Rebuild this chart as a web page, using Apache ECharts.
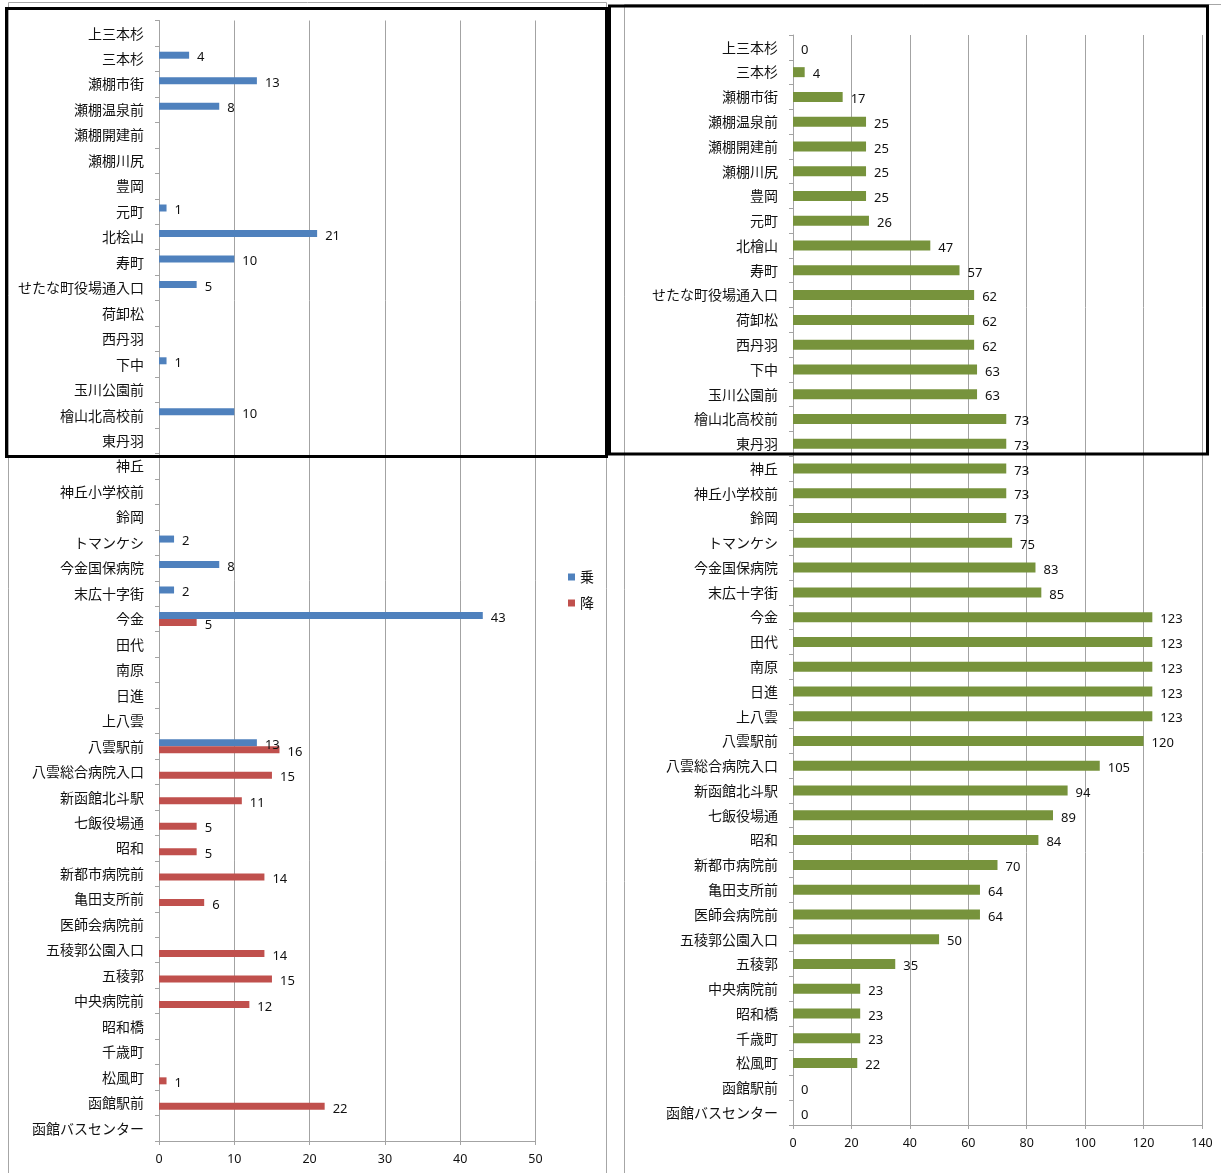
<!DOCTYPE html>
<html>
<head>
<meta charset="utf-8">
<title>乗降人数</title>
<script src="https://cdn.jsdelivr.net/npm/echarts@6/dist/echarts.min.js"></script>
<style>
  html, body { margin: 0; padding: 0; background: #fff; }
  #chart { width: 1221px; height: 1173px; }
</style>
</head>
<body>
<div id="chart"></div>
<script>
// Stops for the left panel (boarding / alighting)
const stopsLeft = [
  '上三本杉', '三本杉', '瀬棚市街', '瀬棚温泉前', '瀬棚開建前', '瀬棚川尻', '豊岡', '元町',
  '北桧山', '寿町', 'せたな町役場通入口', '荷卸松', '西丹羽', '下中', '玉川公園前', '檜山北高校前',
  '東丹羽', '神丘', '神丘小学校前', '鈴岡', 'トマンケシ', '今金国保病院', '末広十字街', '今金',
  '田代', '南原', '日進', '上八雲', '八雲駅前', '八雲総合病院入口', '新函館北斗駅', '七飯役場通',
  '昭和', '新都市病院前', '亀田支所前', '医師会病院前', '五稜郭公園入口', '五稜郭', '中央病院前', '昭和橋',
  '千歳町', '松風町', '函館駅前', '函館バスセンター'
];

// Stops for the right panel (passengers on board)
const stopsRight = [
  '上三本杉', '三本杉', '瀬棚市街', '瀬棚温泉前', '瀬棚開建前', '瀬棚川尻', '豊岡', '元町',
  '北檜山', '寿町', 'せたな町役場通入口', '荷卸松', '西丹羽', '下中', '玉川公園前', '檜山北高校前',
  '東丹羽', '神丘', '神丘小学校前', '鈴岡', 'トマンケシ', '今金国保病院', '末広十字街', '今金',
  '田代', '南原', '日進', '上八雲', '八雲駅前', '八雲総合病院入口', '新函館北斗駅', '七飯役場通',
  '昭和', '新都市病院前', '亀田支所前', '医師会病院前', '五稜郭公園入口', '五稜郭', '中央病院前', '昭和橋',
  '千歳町', '松風町', '函館駅前', '函館バスセンター'
];

// 乗 (boarding), '-' = no entry
const boarding = [
  '-', 4, 13, 8, '-', '-', '-', 1,
  21, 10, 5, '-', '-', 1, '-', 10,
  '-', '-', '-', '-', 2, 8, 2, 43,
  '-', '-', '-', '-', 13, '-', '-', '-',
  '-', '-', '-', '-', '-', '-', '-', '-',
  '-', '-', '-', '-'
];

// 降 (alighting), '-' = no entry
const alighting = [
  '-', '-', '-', '-', '-', '-', '-', '-',
  '-', '-', '-', '-', '-', '-', '-', '-',
  '-', '-', '-', '-', '-', '-', '-', 5,
  '-', '-', '-', '-', 16, 15, 11, 5,
  5, 14, 6, '-', 14, 15, 12, '-',
  '-', 1, 22, '-'
];

// Passengers on board after each stop
const onBoard = [
  0, 4, 17, 25, 25, 25, 25, 26,
  47, 57, 62, 62, 62, 63, 63, 73,
  73, 73, 73, 73, 75, 83, 85, 123,
  123, 123, 123, 123, 120, 105, 94, 89,
  84, 70, 64, 64, 50, 35, 23, 23,
  23, 22, 0, 0
];

// Value axis ticks
const leftTicks = { min: 0, max: 50, interval: 10 };
const rightTicks = { min: 0, max: 140, interval: 20 };

const GRID_GRAY = '#a3a3a3';
const FONT_JP = '"Noto Sans CJK JP", "Noto Sans", sans-serif';
const FONT_NUM = '"Noto Sans", "DejaVu Sans", sans-serif';

function categoryAxis(gridIndex, data) {
  return {
    type: 'category',
    gridIndex: gridIndex,
    data: data,
    inverse: true,
    axisLine: { show: true, lineStyle: { color: GRID_GRAY, width: 1 } },
    axisTick: { show: true, length: 4, lineStyle: { color: GRID_GRAY } },
    axisLabel: { margin: 15, fontSize: 14, color: '#111', fontFamily: FONT_JP },
    splitLine: { show: false }
  };
}

function valueAxis(gridIndex, ticks) {
  return {
    type: 'value',
    gridIndex: gridIndex,
    min: ticks.min,
    max: ticks.max,
    interval: ticks.interval,
    axisLine: { show: true, lineStyle: { color: GRID_GRAY, width: 1 } },
    axisTick: { show: true, length: 4, lineStyle: { color: GRID_GRAY } },
    axisLabel: { margin: 12, fontSize: 12.5, color: '#111', fontFamily: FONT_NUM },
    splitLine: { show: true, lineStyle: { color: GRID_GRAY, width: 1 } }
  };
}

function valueLabel() {
  return {
    show: true,
    position: 'right',
    distance: 8,
    offset: [0, 2.5],
    fontSize: 13,
    color: '#111',
    fontFamily: FONT_NUM
  };
}

const chart = echarts.init(document.getElementById('chart'), null, { renderer: 'canvas' });

chart.setOption({
  animation: false,
  backgroundColor: '#fff',
  grid: [
    { left: 159, top: 20.5, width: 376.5, height: 1120.5 },
    { left: 793, top: 35, width: 409, height: 1090 }
  ],
  legend: {
    data: ['乗', '降'],
    orient: 'vertical',
    left: 563,
    top: 565,
    icon: 'rect',
    itemWidth: 7,
    itemHeight: 7,
    itemGap: 12,
    textStyle: { fontSize: 14, color: '#111', fontFamily: FONT_JP }
  },
  xAxis: [valueAxis(0, leftTicks), valueAxis(1, rightTicks)],
  yAxis: [categoryAxis(0, stopsLeft), categoryAxis(1, stopsRight)],
  series: [
    {
      name: '乗',
      type: 'bar',
      xAxisIndex: 0,
      yAxisIndex: 0,
      data: boarding,
      barWidth: 7,
      barGap: '0%',
      itemStyle: { color: '#4f81bd' },
      label: valueLabel()
    },
    {
      name: '降',
      type: 'bar',
      xAxisIndex: 0,
      yAxisIndex: 0,
      data: alighting,
      barWidth: 7,
      barGap: '0%',
      itemStyle: { color: '#c0504d' },
      label: valueLabel()
    },
    {
      name: '乗車人数',
      type: 'bar',
      xAxisIndex: 1,
      yAxisIndex: 1,
      data: onBoard,
      barWidth: 10,
      itemStyle: { color: '#77933c' },
      label: valueLabel()
    }
  ],
  graphic: [
    // thin frames of the two chart areas
    { type: 'rect', z: 0, silent: true,
      shape: { x: 8.5, y: 2.5, width: 598, height: 1190 },
      style: { fill: null, stroke: '#a6a6a6', lineWidth: 1 } },
    { type: 'rect', z: 0, silent: true,
      shape: { x: 624.5, y: 4.5, width: 620, height: 1190 },
      style: { fill: null, stroke: '#a6a6a6', lineWidth: 1 } },
    // highlighted blocks of stops
    { type: 'rect', z: 100, silent: true,
      shape: { x: 6.5, y: 8.5, width: 600, height: 448 },
      style: { fill: null, stroke: '#000', lineWidth: 3 } },
    { type: 'rect', z: 100, silent: true,
      shape: { x: 609.5, y: 6, width: 598, height: 448 },
      style: { fill: null, stroke: '#000', lineWidth: 3 } }
  ]
});
</script>
</body>
</html>
